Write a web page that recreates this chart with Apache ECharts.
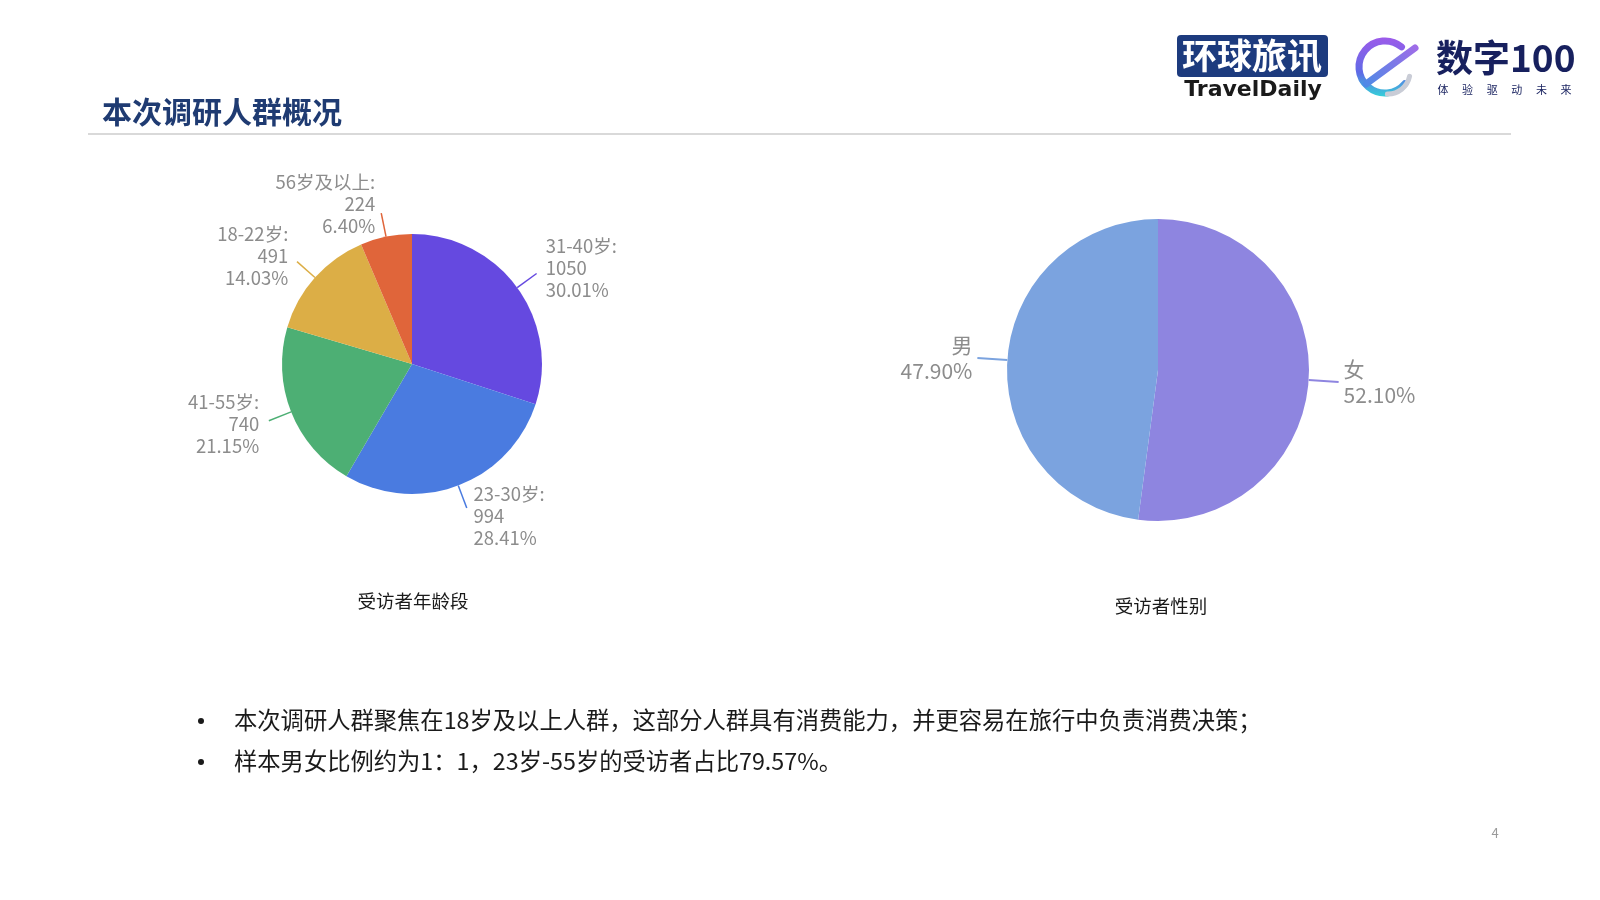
<!DOCTYPE html>
<html><head><meta charset="utf-8">
<script src="https://cdn.jsdelivr.net/npm/echarts@6/dist/echarts.min.js"></script>
<style>html,body{margin:0;padding:0;background:#fff}#c{width:1600px;height:900px}</style>
</head><body><div id="c"></div>
<script>
const ageCategories = ['31-40岁', '23-30岁', '41-55岁', '18-22岁', '56岁及以上'];
const ageValues = [1050, 994, 740, 491, 224];
const ageColors = ['#6549E0', '#4A7BE0', '#4DAF74', '#DCAE46', '#E0653A'];
const genderCategories = ['女', '男'];
const genderValues = [1823, 1676];
const genderColors = ['#8E85E0', '#7BA3DF'];
const pageTitle = '本次调研人群概况';
const chartCaptions = ['受访者年龄段', '受访者性别'];
const bulletTexts = [
  '本次调研人群聚焦在18岁及以上人群，这部分人群具有消费能力，并更容易在旅行中负责消费决策；',
  '样本男女比例约为1：1，23岁-55岁的受访者占比79.57%。'
];
const pageNumber = '4';
const logoSubChars = ['体', '验', '驱', '动', '未', '来'];

const FONT = '"Noto Sans CJK SC", "Microsoft YaHei", sans-serif';
const chart = echarts.init(document.getElementById('c'));

function txt(x, y, text, opt) {
  return {
    type: 'text', x: x, y: y, silent: true,
    style: Object.assign({
      text: text, fontFamily: FONT, fontSize: 16, fill: '#222',
      textAlign: 'left', textVerticalAlign: 'middle'
    }, opt || {})
  };
}

const graphics = [
  txt(102, 112, pageTitle, {fontSize: 30, fontWeight: 'bold', fill: '#1F3B72'}),
  {type: 'line', silent: true, shape: {x1: 88, y1: 134, x2: 1511, y2: 134}, style: {stroke: '#D9D9D9', lineWidth: 2}},
  txt(413, 601, chartCaptions[0], {fontSize: 18.5, textAlign: 'center', fill: '#1a1a1a'}),
  txt(1161, 606, chartCaptions[1], {fontSize: 18.5, textAlign: 'center', fill: '#1a1a1a'}),
  txt(1495, 833, pageNumber, {fontSize: 13, textAlign: 'center', fill: '#9a9a9a'}),
  // logo 1
  {type: 'rect', silent: true, shape: {x: 1177, y: 35, width: 151, height: 42, r: 4}, style: {fill: '#1D3B7E'}},
  txt(1252, 56, '环球旅讯', {fontSize: 35, fontWeight: 'bold', fill: '#fff', textAlign: 'center'}),
  txt(1253, 90, 'TravelDaily', {fontSize: 22, fontWeight: 'bold', fill: '#1a1a1a', textAlign: 'center', fontFamily: '"DejaVu Sans", "Liberation Sans", sans-serif'}),
  // logo 2 swirl
  {type: 'arc', silent: true, shape: {cx: 1385, cy: 67, r: 26, startAngle: 0.7, endAngle: 5.4, clockwise: true},
    style: {fill: 'none', lineWidth: 7, lineCap: 'round', stroke: new echarts.graphic.LinearGradient(0, 0, 0, 1, [{offset: 0, color: '#9C5BEA'}, {offset: 0.6, color: '#5E6BE6'}, {offset: 1, color: '#35D0D8'}])}},
  {type: 'line', silent: true, shape: {x1: 1366, y1: 84, x2: 1415, y2: 48},
    style: {lineWidth: 7, lineCap: 'round', stroke: new echarts.graphic.LinearGradient(0, 1, 1, 0, [{offset: 0, color: '#4A8BE6'}, {offset: 1, color: '#A36BE8'}])}},
  {type: 'arc', silent: true, shape: {cx: 1388, cy: 72, r: 22, startAngle: 0.2, endAngle: 1.6, clockwise: true},
    style: {fill: 'none', lineWidth: 5, lineCap: 'round', stroke: '#C9CCD6'}},
  txt(1436, 58, '数字100', {fontSize: 37, fontWeight: 'bold', fill: '#17205E'})
];
logoSubChars.forEach(function (c, i) {
  graphics.push(txt(1443 + i * 24.6, 90, c, {fontSize: 11, fill: '#17205E', textAlign: 'center'}));
});
bulletTexts.forEach(function (t, i) {
  const y = 720 + i * 41;
  graphics.push({type: 'circle', silent: true, shape: {cx: 201, cy: y + 1, r: 3}, style: {fill: '#1a1a1a'}});
  graphics.push(txt(234, y, t, {fontSize: 23.3, fill: '#1a1a1a'}));
});

// push each label a little further along its own leader line
function pushAlongLine(kx, ky) {
  return function (p) {
    const pts = p.labelLinePoints;
    if (!pts || pts.length < 2) return {hideOverlap: false};
    const ddx = pts[1][0] - pts[0][0], ddy = pts[1][1] - pts[0][1];
    const len = Math.sqrt(ddx * ddx + ddy * ddy) || 1;
    return {dx: kx * ddx / len, dy: ky * ddy / len, hideOverlap: false};
  };
}

chart.setOption({
  backgroundColor: '#fff',
  animation: false,
  graphic: graphics,
  series: [
    {
      type: 'pie',
      center: [412, 364],
      radius: [0, 130],
      startAngle: 90,
      clockwise: true,
      avoidLabelOverlap: false,
      data: ageCategories.map(function (n, i) { return {name: n, value: ageValues[i], itemStyle: {color: ageColors[i]}}; }),
      label: {
        show: true, position: 'outside', fontFamily: FONT, fontSize: 18.5, lineHeight: 22, color: '#8C8C8C',
        formatter: function (p) { return p.name + ':\n' + p.value + '\n' + p.percent.toFixed(2) + '%'; }
      },
      labelLine: {show: true, length: 24, length2: 0, smooth: false, lineStyle: {width: 1.5}},
      labelLayout: pushAlongLine(5, 9),
      emphasis: {disabled: true}
    },
    {
      type: 'pie',
      center: [1158, 370],
      radius: [0, 151],
      startAngle: 90,
      clockwise: true,
      avoidLabelOverlap: false,
      data: genderCategories.map(function (n, i) { return {name: n, value: genderValues[i], itemStyle: {color: genderColors[i]}}; }),
      label: {
        show: true, position: 'outside', fontFamily: FONT, fontSize: 21, lineHeight: 26, color: '#8C8C8C',
        formatter: function (p) { return p.name + '\n' + p.percent.toFixed(2) + '%'; }
      },
      labelLine: {show: true, length: 30, length2: 0, smooth: false, lineStyle: {width: 2}},
      emphasis: {disabled: true}
    }
  ]
});
</script>
</body></html>
